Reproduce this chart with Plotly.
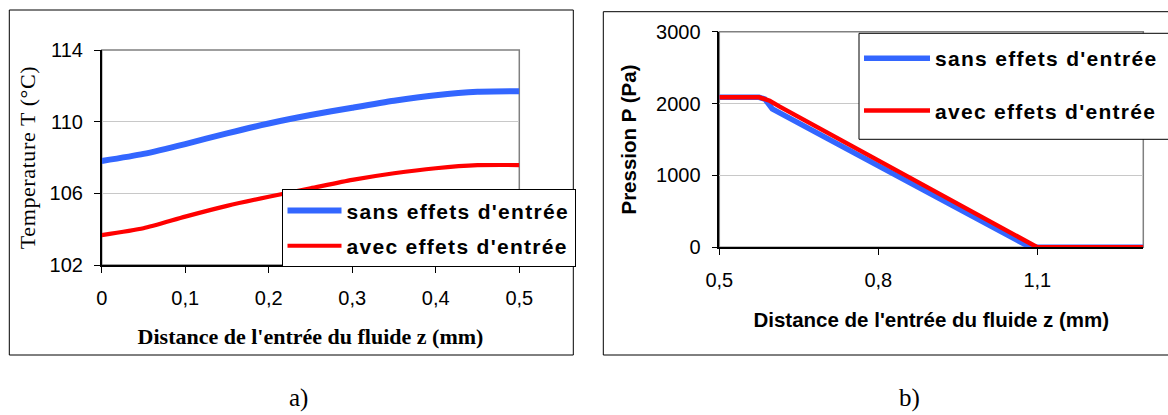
import plotly.graph_objects as go

W, H = 1168, 415
def fx(p): return p / W
def fy(p): return 1 - p / H

# ---- data (a) temperature ----
z_temp = [0, 0.05, 0.1, 0.15, 0.2, 0.25, 0.3, 0.35, 0.4, 0.45, 0.5]
t_sans = [107.8, 108.2, 108.75, 109.35, 109.9, 110.37, 110.78, 111.17, 111.48, 111.67, 111.7]
t_avec = [103.67, 104.05, 104.7, 105.3, 105.81, 106.28, 106.75, 107.12, 107.4, 107.57, 107.58]

# ---- data (b) pressure ----
z_p_sans = [0.5, 0.575, 0.586, 0.6, 0.7, 0.8, 0.9, 1.0, 1.087, 1.1, 1.2, 1.3]
p_sans = [2087, 2087, 2062, 1925, 1530, 1135, 739, 344, 0, 0, 0, 0]
z_p_avec = [0.5, 0.575, 0.586, 0.595, 0.614, 0.7, 0.8, 0.9, 1.0, 1.1, 1.2, 1.3]
p_avec = [2087, 2087, 2063, 2040, 1957, 1611, 1208, 805, 403, 0, 0, 0]

name_sans = "sans effets d'entrée"
name_avec = "avec effets d'entrée"
BLUE = "#3366ff"
RED = "#ff0000"
LS = "<span style='letter-spacing:1.3px'>%s</span>"

fig = go.Figure()
fig.add_trace(go.Scatter(x=z_temp, y=t_sans, mode="lines", name=LS % name_sans,
                         line=dict(color=BLUE, width=6, shape="spline", smoothing=0.6),
                         xaxis="x", yaxis="y", legend="legend", legendgroup="a1"))
fig.add_trace(go.Scatter(x=z_temp, y=t_avec, mode="lines", name=LS % name_avec,
                         line=dict(color=RED, width=4.2, shape="spline", smoothing=0.6),
                         xaxis="x", yaxis="y", legend="legend", legendgroup="a2"))
fig.add_trace(go.Scatter(x=z_p_sans, y=p_sans, mode="lines", name=LS % name_sans,
                         line=dict(color=BLUE, width=5.5), xaxis="x2", yaxis="y2",
                         legend="legend2", legendgroup="b1"))
fig.add_trace(go.Scatter(x=z_p_avec, y=p_avec, mode="lines", name=LS % name_avec,
                         line=dict(color=RED, width=4.5), xaxis="x2", yaxis="y2",
                         legend="legend2", legendgroup="b2"))

ARIAL = "Liberation Sans, Arial, sans-serif"
TIMES = "Liberation Serif, Times New Roman, serif"
tickfont = dict(family=ARIAL, size=20, color="black")

common = dict(ticks="outside", ticklen=6, tickwidth=1, tickcolor="black",
              showline=True, linecolor="black", linewidth=1.5,
              zeroline=False, tickfont=tickfont)

fig.update_layout(
    width=W, height=H,
    margin=dict(l=0, r=0, t=0, b=0, autoexpand=False),
    paper_bgcolor="white", plot_bgcolor="white",
    separators=",.",
    xaxis=dict(domain=[fx(101.7), fx(519.3)], range=[0, 0.5], tick0=0, dtick=0.1,
               anchor="y", showgrid=False, ticklabelstandoff=8,
               title=dict(text="<b>Distance de l'entrée du fluide z (mm)</b>",
                          font=dict(family=TIMES, size=22, color="black"), standoff=21),
               **common),
    yaxis=dict(domain=[fy(265), fy(50)], range=[102, 114], tick0=102, dtick=4,
               anchor="x", showgrid=True, gridcolor="#c8c8c8", gridwidth=1,
               ticklabelstandoff=7,
               title=dict(text="<span style='letter-spacing:0.6px'>Temperature T (°C)</span>",
                          font=dict(family=TIMES, size=22, color="black"), standoff=8),
               **common),
    xaxis2=dict(domain=[fx(719.3), fx(1143.3)], range=[0.5, 1.3], tick0=0.5, dtick=0.3,
                anchor="y2", showgrid=False, ticklabelstandoff=8,
                title=dict(text="<b>Distance de l'entrée du fluide z (mm)</b>",
                           font=dict(family=ARIAL, size=20.5, color="black"), standoff=23),
                **common),
    yaxis2=dict(domain=[fy(247.3), fy(31.7)], range=[0, 3000], tick0=0, dtick=1000,
                anchor="x2", showgrid=True, gridcolor="#c8c8c8", gridwidth=1,
                ticklabelstandoff=7,
                title=dict(text="<b>Pression P (Pa)</b>",
                           font=dict(family=ARIAL, size=20.5, color="black"), standoff=14),
                **common),
    legend=dict(x=fx(281.5), y=fy(189.3), xanchor="left", yanchor="top",
                bgcolor="white", bordercolor="black", borderwidth=1,
                font=dict(family=ARIAL, size=21, color="black", weight="bold"),
                itemwidth=54, tracegroupgap=5),
    legend2=dict(x=fx(859), y=fy(38), xanchor="left", yanchor="top",
                 bgcolor="rgba(0,0,0,0)", borderwidth=0,
                 font=dict(family=ARIAL, size=21, color="black", weight="bold"),
                 itemwidth=66, tracegroupgap=22),
    showlegend=True,
)

shapes = []
# plot-area borders (grey, top/right)
for xr, yr in (("x domain", "y domain"), ("x2 domain", "y2 domain")):
    shapes.append(dict(type="rect", xref=xr, yref=yr, x0=0, x1=1, y0=0, y1=1,
                       line=dict(color="#808080", width=1.5), layer="below"))
# outer figure frames
shapes.append(dict(type="rect", xref="paper", yref="paper",
                   x0=fx(9.3), x1=fx(573.3), y0=fy(355), y1=fy(10),
                   line=dict(color="black", width=1)))
shapes.append(dict(type="rect", xref="paper", yref="paper",
                   x0=fx(603.3), x1=fx(1180), y0=fy(355), y1=fy(11.7),
                   line=dict(color="black", width=1)))
# box of the second legend (runs off the right edge as in the source)
shapes.append(dict(type="rect", xref="paper", yref="paper",
                   x0=fx(859), x1=fx(1180), y0=fy(139.3), y1=fy(33.3),
                   fillcolor="white", line=dict(color="black", width=1), layer="above"))
fig.update_layout(shapes=shapes)

fig.add_annotation(text="a)", x=fx(298), y=fy(397.5), xref="paper", yref="paper",
                   xanchor="center", yanchor="middle",
                   showarrow=False, font=dict(family=TIMES, size=25, color="black"))
fig.add_annotation(text="b)", x=fx(910), y=fy(397.5), xref="paper", yref="paper",
                   xanchor="center", yanchor="middle",
                   showarrow=False, font=dict(family=TIMES, size=25, color="black"))

fig.write_html("out.html", config={"displayModeBar": False},
               post_script="document.body.style.margin='0';document.body.style.overflow='hidden';")
